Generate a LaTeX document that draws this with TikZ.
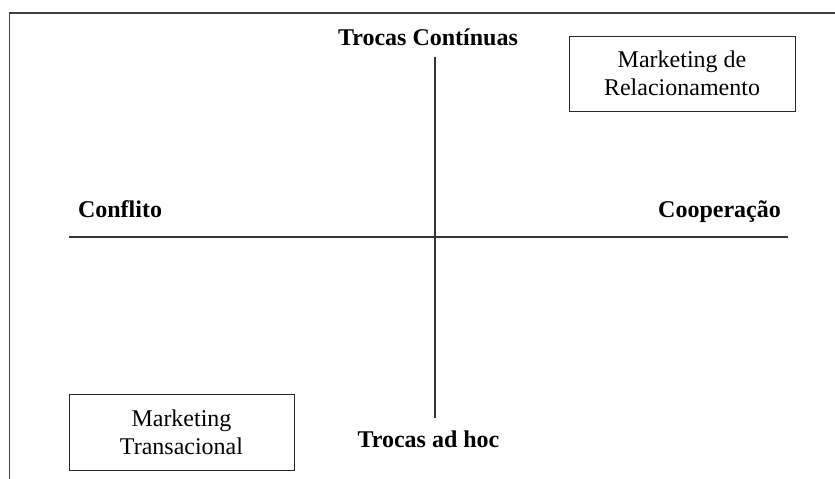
\documentclass[tikz,border=0pt]{standalone}
\usepackage{fontspec}
\setmainfont{Liberation Serif}
\begin{document}
\begin{tikzpicture}[x=1pt,y=-1pt,
  axisline/.style={line width=1.3pt,draw=black!80},
  frameline/.style={line width=1.3pt,draw=black!75},
  quadbox/.style={draw=black!85,line width=0.9pt,align=center,inner sep=0pt,
    font=\fontsize{24}{28}\selectfont},
  axislabel/.style={font=\fontsize{24}{28}\selectfont\bfseries,anchor=base,inner sep=0pt}]
\useasboundingbox (0,0) rectangle (835,479);
% frame (top and left only)
\coordinate (ftl) at (9.5,13);
\coordinate (ftr) at (835,13);
\coordinate (fbl) at (9.5,479);
\draw[frameline] (ftr) -- (ftl) -- (fbl);
% axes
\coordinate (ntop) at (435,57);
\coordinate (nbot) at (435,418);
\coordinate (wl) at (69,237);
\coordinate (el) at (788,237);
\draw[axisline] (ntop) -- (nbot);
\draw[axisline] (wl) -- (el);
% labels
\node[axislabel] (tc) at (428,45) {Trocas Contínuas};
\node[axislabel] (th) at (428.5,447) {Trocas ad hoc};
\node[axislabel] (cf) at (120,217) {Conflito};
\node[axislabel] (cp) at (719.5,217) {Cooperação};
% boxes
\node[quadbox,minimum width=226pt,minimum height=75pt] (mr) at (682,73.5) {Marketing de\\Relacionamento};
\node[quadbox,minimum width=225pt,minimum height=76pt] (mt) at (181.5,432) {Marketing\\Transacional};
\end{tikzpicture}
\end{document}
